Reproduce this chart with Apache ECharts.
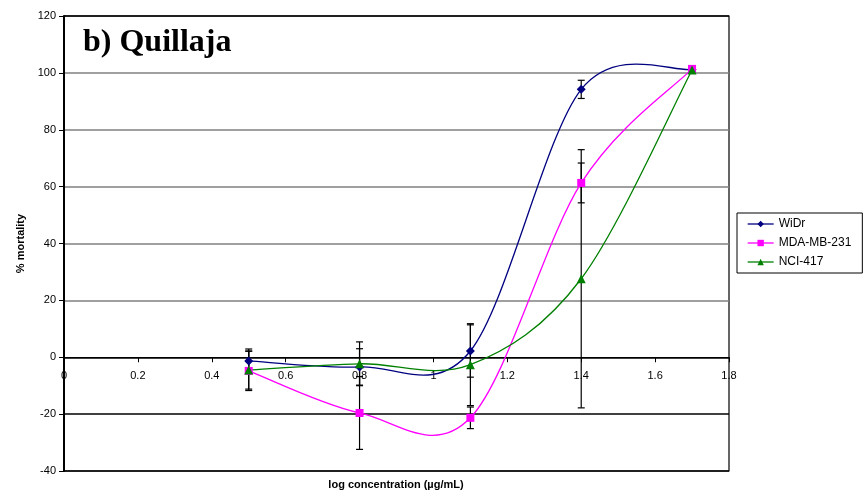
<!DOCTYPE html>
<html>
<head>
<meta charset="utf-8">
<script src="https://cdn.jsdelivr.net/npm/echarts@6/dist/echarts.min.js"></script>
<style>
html,body{margin:0;padding:0;background:#fff;}
#chart{width:866px;height:504px;}
</style>
</head>
<body>
<div id="chart"></div>
<script>
// ---- data ----
const xValues = [0.5, 0.8, 1.1, 1.4, 1.7];
const seriesNames = ['WiDr', 'MDA-MB-231', 'NCI-417'];
const widrValues = [-1.3, -3.4, 2.2, 94.2, 101.2];
const mdaValues = [-4.8, -19.6, -21.3, 61.3, 101.4];
const nciValues = [-4.5, -2.3, -2.6, 27.6, 101.0];
const widrErrors = [4.2, 6.4, 9.2, 3.2, 0.6];
const mdaErrors = [6.9, 12.8, 3.8, 7.0, 0.6];
const nciErrors = [6.7, 7.7, 14.4, 45.4, 0.6];
const xTicks = [0, 0.2, 0.4, 0.6, 0.8, 1, 1.2, 1.4, 1.6, 1.8];
const yTicks = [-40, -20, 0, 20, 40, 60, 80, 100, 120];

const FONT = '"Liberation Sans", Arial, sans-serif';
const colors = ['#000080', '#FF00FF', '#008000'];
const symbols = ['diamond', 'rect', 'triangle'];
const symbolSizes = [9, 8, 9];
const allValues = [widrValues, mdaValues, nciValues];
const allErrors = [widrErrors, mdaErrors, nciErrors];

const GRID = {left: 64, top: 16, width: 665, height: 455};
const yMin = yTicks[0], yMax = yTicks[yTicks.length - 1];
const zeroOffset = -GRID.height * (0 - yMin) / (yMax - yMin);

const chart = echarts.init(document.getElementById('chart'), null, {renderer: 'canvas'});

function pairs(vals) { return xValues.map((x, i) => [x, vals[i]]); }

// Excel-style smoothed curve segment (cubic Bezier, 1/6 tension, arms capped at half the segment)
function smoothSegmentRenderer(color) {
  return function (params, api) {
    const i = params.dataIndexInside;
    const n = params.dataInsideLength;
    if (i >= n - 1) return null;
    const pt = j => api.coord([api.value(0, j), api.value(1, j)]);
    const p1 = pt(i), p2 = pt(i + 1);
    const p0 = i > 0 ? pt(i - 1) : p1;
    const p3 = i + 2 < n ? pt(i + 2) : p2;
    const seg = Math.hypot(p2[0] - p1[0], p2[1] - p1[1]);
    function arm(a, b) {
      let vx = (b[0] - a[0]) / 6, vy = (b[1] - a[1]) / 6;
      const len = Math.hypot(vx, vy);
      if (len > seg / 2 && len > 0) { const k = (seg / 2) / len; vx *= k; vy *= k; }
      return [vx, vy];
    }
    const a1 = arm(p0, p2), a2 = arm(p1, p3);
    return {
      type: 'bezierCurve',
      shape: {
        x1: p1[0], y1: p1[1], x2: p2[0], y2: p2[1],
        cpx1: p1[0] + a1[0], cpy1: p1[1] + a1[1],
        cpx2: p2[0] - a2[0], cpy2: p2[1] - a2[1]
      },
      style: {stroke: color, lineWidth: 1.3, fill: null}
    };
  };
}

const errData = [];
allValues.forEach((vals, s) => {
  xValues.forEach((x, i) => errData.push([x, vals[i] + allErrors[s][i], vals[i] - allErrors[s][i]]));
});

const series = [];
series.push({
  type: 'custom',
  name: 'err',
  data: errData,
  z: 2,
  renderItem: function (params, api) {
    const x = api.value(0);
    const top = api.coord([x, api.value(1)]);
    const bot = api.coord([x, api.value(2)]);
    const w = 3.5;
    const st = {stroke: '#000', lineWidth: 1.2};
    return {
      type: 'group',
      children: [
        {type: 'line', shape: {x1: top[0], y1: top[1], x2: bot[0], y2: bot[1]}, style: st},
        {type: 'line', shape: {x1: top[0] - w, y1: top[1], x2: top[0] + w, y2: top[1]}, style: st},
        {type: 'line', shape: {x1: bot[0] - w, y1: bot[1], x2: bot[0] + w, y2: bot[1]}, style: st}
      ]
    };
  }
});
allValues.forEach((vals, s) => {
  series.push({
    type: 'custom',
    name: seriesNames[s] + ' curve',
    data: pairs(vals),
    z: 3 + s,
    renderItem: smoothSegmentRenderer(colors[s])
  });
});
allValues.forEach((vals, s) => {
  series.push({
    name: seriesNames[s],
    type: 'line',
    data: pairs(vals),
    symbol: symbols[s],
    symbolSize: symbolSizes[s],
    itemStyle: {color: colors[s]},
    lineStyle: {color: colors[s], width: 1.3, opacity: 0},
    z: 10 + s
  });
});

const option = {
  animation: false,
  backgroundColor: '#fff',
  textStyle: {fontFamily: FONT, color: '#000'},
  grid: Object.assign({show: true, borderColor: '#000', borderWidth: 1.2, backgroundColor: 'transparent'}, GRID),
  legend: {
    orient: 'vertical',
    left: 737,
    top: 213,
    data: seriesNames,
    borderColor: '#000',
    borderWidth: 1,
    padding: [5, 11, 5, 10],
    itemGap: 7,
    itemWidth: 26,
    itemHeight: 8,
    lineStyle: {opacity: 1, width: 1.3},
    textStyle: {fontFamily: FONT, fontSize: 12, color: '#000'}
  },
  xAxis: {
    type: 'value',
    min: xTicks[0],
    max: xTicks[xTicks.length - 1],
    interval: 0.2,
    position: 'bottom',
    offset: zeroOffset,
    axisLine: {onZero: false, lineStyle: {color: '#000', width: 1.2}},
    axisTick: {show: true, inside: false, length: 5, lineStyle: {color: '#000'}},
    axisLabel: {
      color: '#000', fontSize: 11, fontFamily: FONT, margin: 13,
      formatter: v => String(Number(v.toFixed(1)))
    },
    splitLine: {show: false}
  },
  yAxis: {
    type: 'value',
    min: yMin,
    max: yMax,
    interval: 20,
    name: '% mortality',
    nameLocation: 'middle',
    nameGap: 33,
    nameTextStyle: {fontFamily: FONT, fontSize: 11, fontWeight: 'bold', color: '#000'},
    axisLine: {show: true, onZero: false, lineStyle: {color: '#000', width: 2}},
    axisTick: {show: true, inside: false, length: 5, lineStyle: {color: '#000'}},
    axisLabel: {color: '#000', fontSize: 11, fontFamily: FONT, margin: 8},
    splitLine: {show: true, lineStyle: {color: ['#000', '#000', '#000', '#808080', '#808080', '#808080', '#808080', '#808080', '#000'], width: 1.5}}
  },
  graphic: [
    {
      type: 'text', left: 83, top: 27, z: 10,
      style: {text: 'b) Quillaja', font: 'bold 32px "Liberation Serif", "Times New Roman", serif', fill: '#000'}
    },
    {
      type: 'text', z: 10,
      style: {text: 'log concentration (µg/mL)', x: 396, y: 485, align: 'center', verticalAlign: 'middle', font: 'bold 11px ' + FONT, fill: '#000'}
    }
  ],
  series: series
};
chart.setOption(option);
</script>
</body>
</html>
